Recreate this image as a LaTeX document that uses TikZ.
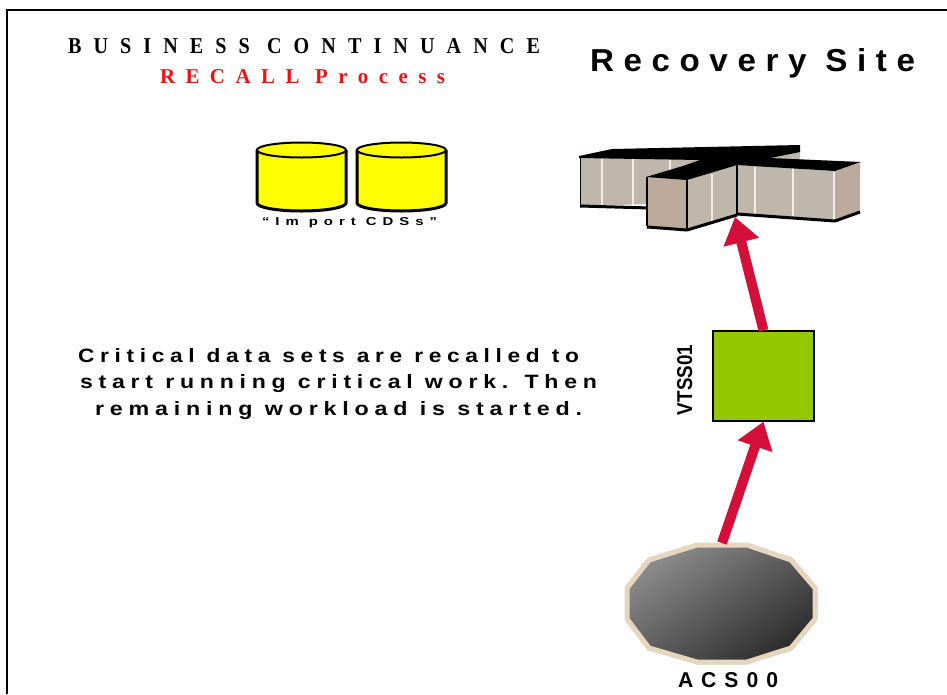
\documentclass[tikz,border=0pt]{standalone}
\usepackage{fontspec}
\usepackage{graphicx}
\setmainfont{Liberation Serif}
\newfontfamily\serifb{Liberation Serif}
\newfontfamily\sansb{Liberation Sans}
\usetikzlibrary{arrows.meta}

\definecolor{flowred}{HTML}{D40F3A}
\definecolor{vtssgreen}{HTML}{95C800}
\definecolor{cdsyellow}{HTML}{FFFF00}
\definecolor{cabface}{HTML}{BFB6AC}
\definecolor{cabend}{HTML}{BCAA9C}
\definecolor{cabline}{HTML}{F6EEE2}
\definecolor{lsmrim}{HTML}{E6D6BE}
\definecolor{lsmlight}{HTML}{8C8C8C}
\definecolor{lsmdark}{HTML}{2C2C2C}
\definecolor{titlered}{HTML}{F01010}

% spaced text squeezed into a measured box: width, cap height, font, spacing, text
\newcommand{\fitted}[5]{\resizebox{#1}{#2}{#3\bfseries\addfontfeature{LetterSpace=#4}#5}}

\begin{document}
\begin{tikzpicture}[x=1pt,y=-1pt,
  txt/.style={inner sep=0pt, outer sep=0pt, anchor=base west},
  flow/.style={draw=flowred, line width=10pt, -{Triangle[length=26pt,width=35pt]}},
  roof/.style={fill=black},
  face/.style={fill=cabface},
  endface/.style={fill=cabend},
  sep/.style={draw=cabline, line width=1.6pt},
  shadow/.style={draw=black, line width=3pt, line join=round},
  cyl/.style={fill=cdsyellow}]

\useasboundingbox (0,0) rectangle (947,694);

% page frame
\draw[line width=2pt] (7,694) -- (7,10) -- (947,10);

% headings
\node[txt] (title) at (68,53) {\fitted{472pt}{15pt}{\serifb}{60}{BUSINESS CONTINUANCE}};
\node[txt, text=titlered] (sub) at (160,83) {\fitted{285pt}{14pt}{\serifb}{50}{RECALL Process}};
\node[txt] (site) at (590,71) {\fitted{325pt}{23pt}{\sansb}{29}{Recovery Site}};

% import control data set volumes
\foreach \x/\n in {257/cdsa, 357/cdsb} {
  \path[cyl] (\x,150) -- (\x,203) arc[start angle=180, end angle=0, x radius=44.5, y radius=8] -- (\x+89,150) -- cycle;
  \draw[line width=3pt] (\x,150) -- (\x,203) arc[start angle=180, end angle=0, x radius=44.5, y radius=8] -- (\x+89,150);
  \draw[line width=2pt, fill=cdsyellow] (\x+44.5,150) ellipse[x radius=44.5, y radius=7.5];
  \coordinate (\n) at (\x+44.5,150);
}
\node[txt] (cdslabel) at (262,225) {\fitted{175pt}{8pt}{\sansb}{40}{“Im port CDSs”}};

% host complex: back arm face
\path[face] (580,158) -- (800,151) -- (800,200) -- (580,206) -- cycle;
\foreach \x in {602,633,670} \draw[sep] (\x,159) -- (\x,205);
\draw[shadow] (580,206) -- (650,208);
\draw[line width=1pt] (580,157) -- (580,206);

% host complex: right arm faces
\path[face] (737,165) -- (835,171) -- (835,221) -- (737,214) -- cycle;
\path[endface] (835,171) -- (860,163) -- (860,212) -- (835,221) -- cycle;
\foreach \x in {755,793} \draw[sep] (\x,167) -- (\x,216);
\draw[sep] (834,172) -- (834,220);
\draw[shadow] (737,214) -- (835,221) -- (860,212);

% host complex: front arm faces
\path[endface] (647,178) -- (687,180) -- (687,229) -- (647,226) -- cycle;
\path[face] (687,180) -- (737,165) -- (737,214) -- (687,229) -- cycle;
\draw[sep] (712,174) -- (712,222);

% host complex: roof over all three arms
\fill[roof] (579,156) -- (612,149) -- (800,145) -- (800,152) -- (770,158) -- (861,162)
  -- (835,171) -- (737,165) -- (687,180) -- (646,177) -- (683,166) -- (700,160) -- (579,158) -- cycle;
\draw[line width=2.5pt] (647,177) -- (647,226);
\draw[line width=2pt] (687,180) -- (687,229);
\draw[line width=1.5pt] (737,164) -- (737,214);
\draw[shadow] (647,227) -- (687,230) -- (737,215);
\coordinate (host) at (735,217);

% virtual tape server
\node[draw=black, line width=1.2pt, fill=vtssgreen, minimum width=101pt, minimum height=90pt, inner sep=0pt] (vtss) at (763.5,376) {};
\node[txt, rotate=90] (vtsslabel) at (692,415) {\fitted{70pt}{15pt}{\sansb}{0}{VTSS01}};

% tape library
\shade[top color=lsmlight, bottom color=lsmdark, shading angle=35]
  (697,543) -- (747,543) -- (792,558) -- (817,587) -- (817,620) -- (792,650) -- (747,664) -- (697,664) -- (648,650) -- (625,620) -- (625,587) -- (648,558) -- cycle;
\draw[lsmrim, line width=5pt, line join=round]
  (697,545) -- (747,545) -- (791,560) -- (815,588) -- (815,619) -- (791,648) -- (747,662) -- (697,662) -- (649,648) -- (627,619) -- (627,588) -- (649,560) -- cycle;
\coordinate (acs) at (722,543);
\node[txt] (acslabel) at (678,687) {\fitted{100pt}{15pt}{\sansb}{38}{ACS00}};

% data flow
\draw[flow] (acs) -- (vtss.south);
\draw[flow] (vtss.north) -- (host);

% explanation
\node[txt] (line1) at (78,362) {\fitted{501pt}{14pt}{\sansb}{25}{Critical data sets are recalled to}};
\node[txt] (line2) at (80,388) {\fitted{517pt}{14pt}{\sansb}{25}{start running critical work. Then}};
\node[txt] (line3) at (95,415) {\fitted{487pt}{14pt}{\sansb}{25}{remaining workload is started.}};
\end{tikzpicture}
\end{document}
